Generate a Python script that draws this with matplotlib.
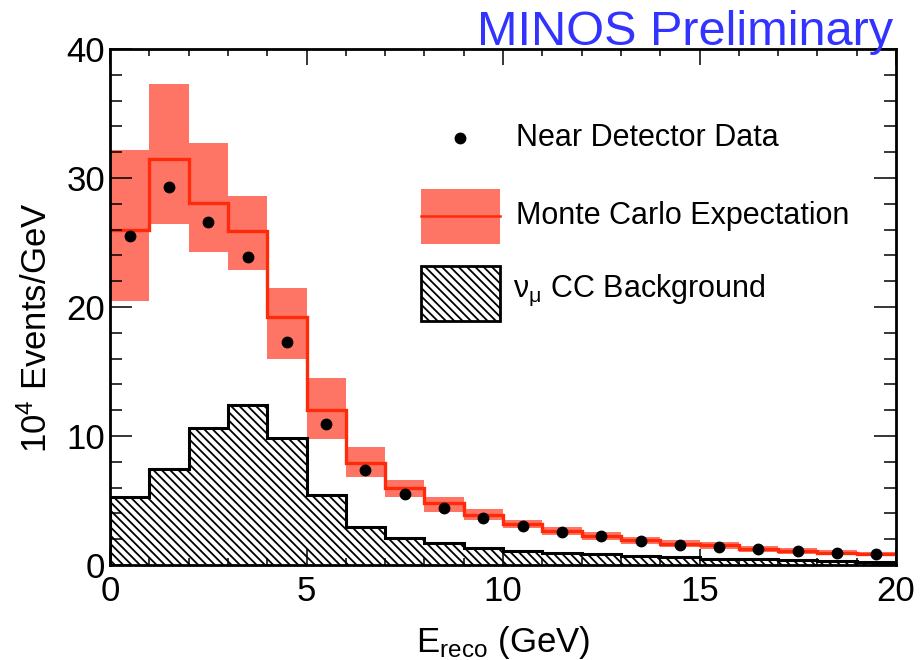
import matplotlib
matplotlib.use('Agg')
import matplotlib.pyplot as plt
import numpy as np
from matplotlib.patches import Rectangle
from matplotlib.ticker import MultipleLocator

plt.rcParams['font.family'] = ['Liberation Sans', 'DejaVu Sans']
plt.rcParams['mathtext.fontset'] = 'custom'
plt.rcParams['mathtext.rm'] = 'Liberation Sans'
plt.rcParams['mathtext.it'] = 'Liberation Sans:italic'
plt.rcParams['mathtext.bf'] = 'Liberation Sans:bold'
plt.rcParams['hatch.linewidth'] = 1.3

# bin edges (GeV)
edges = np.arange(0, 21, 1)
centers = edges[:-1] + 0.5

# Monte Carlo expectation and its error band (1e4 events/GeV)
mc = [26.0, 31.45, 28.1, 25.9, 19.25, 12.0, 7.88, 5.94, 4.78, 3.88,
      3.18, 2.64, 2.27, 1.91, 1.63, 1.53, 1.22, 1.09, 0.95, 0.85]
mc_hi = [32.2, 37.3, 32.7, 28.6, 21.45, 14.5, 9.15, 6.56, 5.3, 4.32,
         3.5, 2.95, 2.57, 2.2, 1.9, 1.8, 1.45, 1.3, 1.15, 1.03]
mc_lo = [20.5, 26.4, 24.3, 22.9, 16.0, 9.74, 6.8, 5.24, 4.13, 3.49,
         2.85, 2.33, 1.97, 1.62, 1.37, 1.27, 1.0, 0.88, 0.76, 0.67]

# near detector data
data = [25.5, 29.3, 26.6, 23.9, 17.25, 10.95, 7.36, 5.53, 4.42, 3.67,
        3.05, 2.56, 2.25, 1.88, 1.57, 1.42, 1.22, 1.09, 0.93, 0.82]

# numu CC background
bg = [5.24, 7.41, 10.64, 12.4, 9.82, 5.43, 2.97, 2.07, 1.68, 1.34,
      1.11, 0.93, 0.83, 0.70, 0.60, 0.49, 0.44, 0.36, 0.31, 0.26]

red = '#ff2a0a'
band = '#ff7565'
hatch = '\\\\\\\\'

fig = plt.figure(figsize=(9.21, 6.60), dpi=100)
ax = fig.add_axes([110/921, 1 - 565/660, 786/921, 516/660])

ax.stairs(mc_hi, edges, baseline=mc_lo, fill=True, facecolor=band, edgecolor='none', linewidth=0)
ax.stairs(bg, edges, baseline=0, fill=True, facecolor='white', edgecolor='black',
          hatch=hatch, linewidth=2.2)
ax.stairs(mc, edges, baseline=None, color=red, linewidth=2.4)
ax.plot(centers, data, 'o', color='black', ms=7.5, zorder=5)

ax.set_xlim(0, 20)
ax.set_ylim(0, 40)
ax.xaxis.set_major_locator(MultipleLocator(5))
ax.xaxis.set_minor_locator(MultipleLocator(1))
ax.yaxis.set_major_locator(MultipleLocator(10))
ax.yaxis.set_minor_locator(MultipleLocator(2))
ax.tick_params(which='both', direction='in', top=True, right=True, width=1.1, labelsize=25)
ax.tick_params(axis='x', which='major', length=11.5, pad=7.5)
ax.tick_params(axis='x', which='minor', length=5)
ax.tick_params(axis='y', which='major', length=16, pad=3.5)
ax.tick_params(axis='y', which='minor', length=8.5)
for s in ax.spines.values():
    s.set_linewidth(2.0)

# axis titles
ax.text(0.5, (565 - 652) / 516, r'E$_{\mathregular{reco}}$ (GeV)', transform=ax.transAxes,
        ha='center', va='baseline', fontsize=25)
ax.text(-0.093, 0.46, r'10$^{\mathregular{4}}$ Events/GeV', transform=ax.transAxes,
        ha='center', va='center', rotation=90, fontsize=25)

# legend drawn by hand
ax.plot([0.4453], [0.8275], 'o', color='black', ms=7.5, transform=ax.transAxes, clip_on=False)
ax.add_patch(Rectangle((0.3957, 0.622), 0.1005, 0.1067, transform=ax.transAxes,
                       facecolor=band, edgecolor='none'))
ax.plot([0.3957, 0.4962], [0.676, 0.676], color=red, lw=1.8, transform=ax.transAxes)
ax.add_patch(Rectangle((0.3957, 0.4729), 0.1005, 0.1066, transform=ax.transAxes,
                       facecolor='white', edgecolor='black', hatch=hatch, linewidth=2.0))
ax.text(0.5165, 0.8275, 'Near Detector Data', transform=ax.transAxes, va='center', fontsize=22)
ax.text(0.5165, 0.676, 'Monte Carlo Expectation', transform=ax.transAxes, va='center', fontsize=22)
ax.text(0.5125, 0.533, r'$\mathregular{\nu_{\mu}}$ CC Background', transform=ax.transAxes,
        va='center', fontsize=22)

fig.text(893/921, 1 - 45/660, 'MINOS Preliminary', color='#3333ff', fontsize=35,
         ha='right', va='baseline')

fig.savefig('out.png', dpi=100)
